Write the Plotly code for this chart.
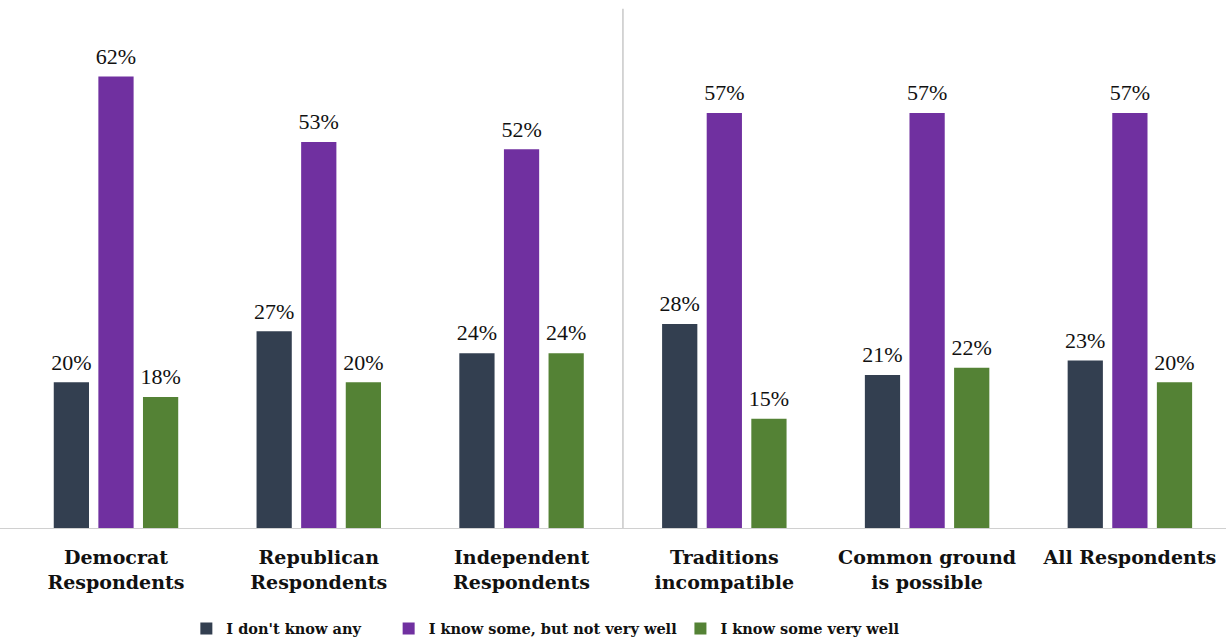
import plotly.graph_objects as go

categories = ["Democrat<br>Respondents", "Republican<br>Respondents", "Independent<br>Respondents",
              "Traditions<br>incompatible", "Common ground<br>is possible", "All Respondents"]
series_names = ["I don't know any", "I know some, but not very well", "I know some very well"]
dont_know = [20, 27, 24, 28, 21, 23]
know_some = [62, 53, 52, 57, 57, 57]
know_well = [18, 20, 24, 15, 22, 20]
colors = ["#333f50", "#7030a0", "#548235"]

LABEL_FONT = "Liberation Serif"
CAT_FONT = "DejaVu Serif"
values = [dont_know, know_some, know_well]
legend_ids = ["legend", "legend2", "legend3"]
legend_x = [0.152, 0.317, 0.555]

fig = go.Figure()
for name, vals, col, lg in zip(series_names, values, colors, legend_ids):
    fig.add_trace(go.Bar(
        x=categories, y=vals, name=name, marker_color=col, marker_line_width=0,
        legend=lg,
    ))
# value labels: grouped text scatter traces aligned with the bars
for name, vals in zip(series_names, values):
    fig.add_trace(go.Scatter(
        x=categories, y=vals, mode="markers+text", showlegend=False, hoverinfo="skip",
        text=[f"{v}%" for v in vals], textposition="top center",
        marker=dict(size=10, opacity=0), cliponaxis=False,
        textfont=dict(family=LABEL_FONT, size=22, color="#111"),
    ))

layout_legends = {}
for lg, lx in zip(legend_ids, legend_x):
    layout_legends[lg] = dict(orientation="h", yref="container", y=0.018, yanchor="middle",
                              x=lx, xanchor="left",
                              font=dict(family=CAT_FONT, size=14.5, color="#111", weight="bold"),
                              bgcolor="rgba(0,0,0,0)", itemwidth=30)

fig.update_layout(
    width=1226, height=640,
    margin=dict(l=0, r=0, t=0, b=112),
    paper_bgcolor="white", plot_bgcolor="white",
    barmode="group", bargap=0.34, bargroupgap=0.21,
    scattermode="group", scattergap=0.34,
    showlegend=True,
    xaxis=dict(range=[-0.572, 5.474], showgrid=False, zeroline=False,
               showline=True, linecolor="#d0d0d0", linewidth=1,
               tickfont=dict(family=CAT_FONT, size=19, color="#111", weight="bold"),
               ticks="", ticklabelstandoff=12),
    yaxis=dict(range=[0, 72.5], visible=False),
    shapes=[dict(type="line", xref="x", yref="y", x0=2.5, x1=2.5, y0=0, y1=71.3,
                 line=dict(color="#c8c8c8", width=1.5))],
    **layout_legends,
)

fig.write_html("out.html")
